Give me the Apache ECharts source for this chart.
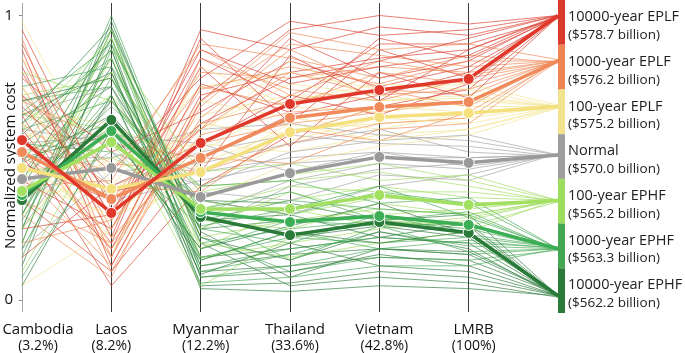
<!DOCTYPE html>
<html>
<head>
<meta charset="utf-8">
<script src="https://cdn.jsdelivr.net/npm/echarts@6/dist/echarts.min.js"></script>
<style>
  html, body { margin: 0; padding: 0; background: #fff; }
  #chart { width: 685px; height: 353px; }
</style>
</head>
<body>
<div id="chart"></div>
<script>
// axes (last one is the scenario column)
const countries = ['Cambodia', 'Laos', 'Myanmar', 'Thailand', 'Vietnam', 'LMRB', ''];
const shares = ['(3.2%)', '(8.2%)', '(12.2%)', '(33.6%)', '(42.8%)', '(100%)', ''];

const scenarioNames = ['10000-year EPLF', '1000-year EPLF', '100-year EPLF', 'Normal',
  '100-year EPHF', '1000-year EPHF', '10000-year EPHF'];
const scenarioCosts = ['($578.7 billion)', '($576.2 billion)', '($575.2 billion)', '($570.0 billion)',
  '($565.2 billion)', '($563.3 billion)', '($562.2 billion)'];
const scenarioColors = ['#d93a2b', '#ee8552', '#f3e38e', '#9e9e9e', '#9edc5e', '#44a853', '#2d7b3b'];
const mainColors = ['#e0382a', '#f08a5a', '#f4e07c', '#9a9a9a', '#a2e062', '#3cae55', '#2a7a3a'];

// highlighted (median) runs per scenario
const mainEplf10000 = [0.562, 0.306, 0.552, 0.689, 0.738, 0.777, 1.0];
const mainEplf1000 = [0.520, 0.355, 0.499, 0.640, 0.678, 0.696, 0.84];
const mainEplf100 = [0.464, 0.390, 0.450, 0.590, 0.643, 0.657, 0.68];
const mainNormal = [0.425, 0.464, 0.362, 0.446, 0.503, 0.482, 0.51];
const mainEphf100 = [0.383, 0.555, 0.320, 0.320, 0.369, 0.334, 0.35];
const mainEphf1000 = [0.369, 0.594, 0.309, 0.274, 0.295, 0.264, 0.18];
const mainEphf10000 = [0.351, 0.633, 0.292, 0.228, 0.274, 0.236, 0.015];

// background runs per scenario
const bgEplf10000 = [
  [0.82, 0.22, 0.95, 0.88, 0.96, 0.93, 1.0],
  [0.65, 0.15, 0.72, 0.80, 0.85, 0.88, 0.995],
  [0.48, 0.35, 0.60, 0.92, 0.78, 0.84, 1.0],
  [0.90, 0.28, 0.85, 0.70, 0.90, 0.90, 0.99],
  [0.35, 0.10, 0.50, 0.65, 0.72, 0.80, 1.0],
  [0.72, 0.45, 0.78, 0.98, 0.93, 0.95, 1.0],
  [0.55, 0.05, 0.40, 0.58, 0.68, 0.74, 0.995],
  [0.25, 0.30, 0.88, 0.76, 0.82, 0.86, 1.0],
  [0.78, 0.52, 0.66, 0.84, 0.75, 0.82, 0.99],
  [0.60, 0.20, 0.92, 0.62, 0.88, 0.78, 1.0],
  [0.15, 0.40, 0.55, 0.72, 0.65, 0.76, 1.0],
  [0.88, 0.12, 0.70, 0.95, 1.0, 0.97, 1.0],
  [0.42, 0.25, 0.82, 0.54, 0.80, 0.71, 0.995],
  [0.68, 0.38, 0.45, 0.86, 0.70, 0.88, 1.0],
  [0.95, 0.32, 0.62, 0.78, 0.84, 0.92, 1.0],
  [0.50, 0.18, 0.76, 0.66, 0.92, 0.85, 0.995]
];
const bgEplf1000 = [
  [0.75, 0.30, 0.80, 0.78, 0.82, 0.80, 0.84],
  [0.58, 0.18, 0.62, 0.70, 0.74, 0.72, 0.845],
  [0.40, 0.42, 0.90, 0.85, 0.78, 0.86, 0.835],
  [0.85, 0.22, 0.55, 0.62, 0.66, 0.70, 0.84],
  [0.30, 0.08, 0.70, 0.90, 0.86, 0.82, 0.84],
  [0.66, 0.48, 0.45, 0.55, 0.62, 0.64, 0.845],
  [0.50, 0.35, 0.75, 0.68, 0.80, 0.76, 0.84],
  [0.92, 0.15, 0.85, 0.74, 0.70, 0.78, 0.835],
  [0.20, 0.28, 0.60, 0.80, 0.72, 0.74, 0.84],
  [0.70, 0.55, 0.50, 0.48, 0.60, 0.62, 0.84],
  [0.45, 0.12, 0.68, 0.94, 0.88, 0.90, 0.845],
  [0.62, 0.40, 0.38, 0.60, 0.56, 0.66, 0.84],
  [0.80, 0.25, 0.74, 0.82, 0.76, 0.84, 0.84],
  [0.35, 0.20, 0.58, 0.66, 0.68, 0.70, 0.835],
  [0.55, 0.45, 0.88, 0.72, 0.84, 0.79, 0.84],
  [0.72, 0.10, 0.64, 0.88, 0.74, 0.68, 0.845]
];
const bgEplf100 = [
  [0.70, 0.35, 0.65, 0.72, 0.70, 0.72, 0.68],
  [0.52, 0.22, 0.48, 0.60, 0.62, 0.64, 0.68],
  [0.98, 0.40, 0.75, 0.80, 0.74, 0.76, 0.685],
  [0.30, 0.50, 0.55, 0.52, 0.58, 0.60, 0.675],
  [0.62, 0.15, 0.82, 0.68, 0.66, 0.70, 0.68],
  [0.42, 0.30, 0.40, 0.56, 0.64, 0.62, 0.68],
  [0.85, 0.45, 0.60, 0.76, 0.72, 0.68, 0.68],
  [0.05, 0.25, 0.70, 0.64, 0.60, 0.66, 0.685],
  [0.58, 0.55, 0.35, 0.48, 0.54, 0.58, 0.675],
  [0.75, 0.18, 0.52, 0.70, 0.76, 0.74, 0.68],
  [0.38, 0.38, 0.62, 0.58, 0.68, 0.66, 0.68],
  [0.66, 0.62, 0.45, 0.62, 0.56, 0.60, 0.68],
  [0.48, 0.28, 0.58, 0.84, 0.70, 0.71, 0.68]
];
const bgNormal = [
  [0.60, 0.55, 0.45, 0.50, 0.52, 0.50, 0.51],
  [0.40, 0.65, 0.30, 0.42, 0.48, 0.46, 0.51],
  [0.72, 0.40, 0.52, 0.58, 0.55, 0.54, 0.505],
  [0.25, 0.70, 0.38, 0.35, 0.44, 0.42, 0.515],
  [0.50, 0.50, 0.60, 0.62, 0.58, 0.56, 0.51],
  [0.65, 0.75, 0.25, 0.40, 0.46, 0.48, 0.51],
  [0.18, 0.45, 0.48, 0.55, 0.60, 0.52, 0.505],
  [0.45, 0.60, 0.35, 0.30, 0.40, 0.44, 0.515],
  [0.80, 0.35, 0.42, 0.48, 0.50, 0.50, 0.51],
  [0.55, 0.58, 0.55, 0.45, 0.52, 0.47, 0.51],
  [0.35, 0.52, 0.40, 0.52, 0.56, 0.58, 0.51]
];
const bgEphf100 = [
  [0.50, 0.72, 0.30, 0.35, 0.40, 0.36, 0.35],
  [0.30, 0.85, 0.22, 0.28, 0.32, 0.30, 0.35],
  [0.65, 0.60, 0.40, 0.42, 0.45, 0.40, 0.345],
  [0.20, 0.95, 0.15, 0.20, 0.25, 0.28, 0.355],
  [0.45, 0.50, 0.35, 0.30, 0.36, 0.34, 0.35],
  [0.72, 0.78, 0.25, 0.38, 0.30, 0.32, 0.35],
  [0.10, 0.65, 0.05, 0.22, 0.28, 0.26, 0.345],
  [0.55, 0.88, 0.45, 0.48, 0.42, 0.44, 0.35],
  [0.38, 0.55, 0.20, 0.15, 0.20, 0.24, 0.355],
  [0.80, 0.70, 0.32, 0.40, 0.38, 0.38, 0.35],
  [0.25, 0.62, 0.28, 0.25, 0.34, 0.30, 0.35],
  [0.60, 0.92, 0.18, 0.32, 0.26, 0.29, 0.35],
  [0.42, 0.80, 0.38, 0.44, 0.48, 0.42, 0.35]
];
const bgEphf1000 = [
  [0.45, 0.80, 0.20, 0.25, 0.28, 0.25, 0.18],
  [0.30, 0.92, 0.12, 0.18, 0.22, 0.20, 0.185],
  [0.60, 0.70, 0.28, 0.35, 0.32, 0.30, 0.175],
  [0.15, 0.88, 0.08, 0.12, 0.18, 0.16, 0.18],
  [0.52, 0.62, 0.35, 0.30, 0.38, 0.34, 0.18],
  [0.70, 0.75, 0.15, 0.22, 0.20, 0.22, 0.185],
  [0.25, 1.00, 0.22, 0.10, 0.15, 0.14, 0.175],
  [0.38, 0.68, 0.40, 0.42, 0.34, 0.36, 0.18],
  [0.62, 0.85, 0.10, 0.16, 0.24, 0.19, 0.18],
  [0.08, 0.58, 0.18, 0.28, 0.26, 0.27, 0.18],
  [0.48, 0.95, 0.25, 0.20, 0.30, 0.23, 0.185],
  [0.75, 0.82, 0.32, 0.38, 0.28, 0.31, 0.175],
  [0.35, 0.72, 0.06, 0.08, 0.12, 0.12, 0.18],
  [0.55, 0.52, 0.26, 0.32, 0.40, 0.29, 0.18],
  [0.28, 0.78, 0.14, 0.24, 0.18, 0.21, 0.18],
  [0.66, 0.90, 0.30, 0.14, 0.26, 0.17, 0.18]
];
const bgEphf10000 = [
  [0.40, 0.85, 0.15, 0.18, 0.22, 0.20, 0.015],
  [0.25, 0.95, 0.10, 0.12, 0.15, 0.14, 0.02],
  [0.55, 0.75, 0.25, 0.28, 0.30, 0.26, 0.01],
  [0.12, 0.90, 0.05, 0.06, 0.10, 0.08, 0.015],
  [0.48, 0.65, 0.30, 0.22, 0.26, 0.22, 0.015],
  [0.65, 0.80, 0.12, 0.16, 0.18, 0.17, 0.02],
  [0.20, 0.98, 0.20, 0.05, 0.08, 0.06, 0.01],
  [0.35, 0.70, 0.35, 0.34, 0.28, 0.30, 0.015],
  [0.58, 0.88, 0.08, 0.10, 0.16, 0.12, 0.015],
  [0.05, 0.60, 0.14, 0.24, 0.20, 0.24, 0.02],
  [0.42, 0.92, 0.22, 0.14, 0.24, 0.18, 0.01],
  [0.70, 0.78, 0.28, 0.30, 0.22, 0.27, 0.015],
  [0.30, 0.82, 0.04, 0.03, 0.05, 0.04, 0.015],
  [0.50, 0.58, 0.18, 0.26, 0.34, 0.23, 0.015],
  [0.18, 0.72, 0.09, 0.20, 0.12, 0.10, 0.015],
  [0.62, 0.96, 0.24, 0.08, 0.18, 0.16, 0.02]
];

const mainLines = [mainEplf10000, mainEplf1000, mainEplf100, mainNormal, mainEphf100, mainEphf1000, mainEphf10000];
const bgLines = [bgEplf10000, bgEplf1000, bgEplf100, bgNormal, bgEphf100, bgEphf1000, bgEphf10000];

const FONT = '"Open Sans", "Noto Sans", sans-serif';
const chart = echarts.init(document.getElementById('chart'));

const series = [];
// interleave the groups so no colour sits entirely on top
for (let i = 0; i < 16; i++) {
  bgLines.forEach((group, g) => {
    if (!group[i]) return;
    series.push({
      type: 'line',
      data: group[i],
      symbol: 'none',
      silent: true,
      animation: false,
      lineStyle: { color: scenarioColors[g], width: 1, opacity: 0.65 },
      z: 2,
    });
  });
}
// thick median lines, drawn from the bottom group up
for (let g = mainLines.length - 1; g >= 0; g--) {
  series.push({
    type: 'line',
    data: mainLines[g].map((v, k) => (k === 6 ? { value: v, symbol: 'none' } : v)),
    symbol: 'circle',
    symbolSize: 11,
    showSymbol: true,
    silent: true,
    animation: false,
    lineStyle: { color: mainColors[g], width: 3.5 },
    itemStyle: { color: mainColors[g], borderColor: '#fff', borderWidth: 1 },
    z: 5,
  });
}

// scenario colour bar and its labels
const barX = 558;
const segH = 313 / 7;
const graphic = [];
scenarioColors.forEach((c, i) => {
  graphic.push({
    type: 'rect',
    shape: { x: barX, y: i * segH, width: 7, height: segH },
    style: { fill: c },
    z: 10,
  });
  graphic.push({
    type: 'text',
    style: { text: scenarioNames[i], x: 568, y: i * segH + 17, fill: '#222',
      font: '14.5px ' + FONT, verticalAlign: 'middle' },
    z: 10,
  });
  graphic.push({
    type: 'text',
    style: { text: scenarioCosts[i], x: 568, y: i * segH + 35, fill: '#222',
      font: '13.5px ' + FONT, verticalAlign: 'middle' },
    z: 10,
  });
});

// per-label horizontal nudges (left padding) to match the original placement
const labelPad = [32, 0, 10, 10, 10, 10, 0];
const rich = {};
labelPad.forEach((p, i) => {
  rich['n' + i] = { fontFamily: FONT, fontSize: 15, color: '#111', lineHeight: 17, padding: [0, 0, 0, p] };
  rich['p' + i] = { fontFamily: FONT, fontSize: 14, color: '#111', lineHeight: 16, padding: [0, 0, 0, p] };
});

chart.setOption({
  backgroundColor: '#fff',
  animation: false,
  grid: { left: 22, right: 127, top: 3, bottom: 41, containLabel: false, outerBoundsMode: 'none' },
  xAxis: {
    type: 'category',
    data: countries,
    boundaryGap: false,
    axisLine: { show: false },
    axisTick: { show: false },
    splitLine: {
      show: true,
      lineStyle: { color: ['#a8a8a8', '#3a3a3a', '#3a3a3a', '#3a3a3a', '#3a3a3a', '#3a3a3a', '#3a3a3a'], width: 1 },
    },
    axisLabel: {
      interval: 0,
      margin: 9,
      formatter: (v, i) => (v ? '{n' + i + '|' + v + '}\n{p' + i + '|' + shares[i] + '}' : ''),
      rich: rich,
    },
  },
  yAxis: {
    type: 'value',
    min: -0.0422,
    max: 1.0439,
    name: 'Normalized system cost',
    nameLocation: 'middle',
    nameGap: 4,
    nameMoveOverlap: false,
    nameTextStyle: { fontFamily: FONT, fontSize: 15, color: '#111', padding: [0, 16, 0, 0] },
    axisLine: { show: false },
    splitLine: { show: false },
    axisTick: { show: true, customValues: [0, 1], length: 3, lineStyle: { color: '#888' } },
    axisLabel: { customValues: [0, 1], margin: 9, fontFamily: FONT, fontSize: 15, color: '#111' },
  },
  series: series,
  graphic: graphic,
});
</script>
</body>
</html>
